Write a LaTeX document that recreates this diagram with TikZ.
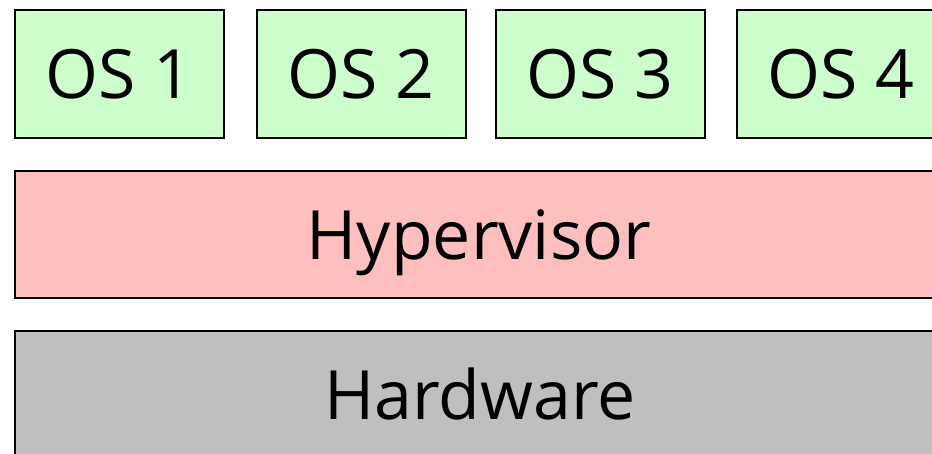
\documentclass[tikz,border=0pt]{standalone}
\usepackage{fontspec}
\setmainfont{Open Sans}
\definecolor{osgreen}{HTML}{CCFFCC}
\definecolor{hvpink}{HTML}{FFBFBF}
\definecolor{hwgray}{HTML}{BFBFBF}
\tikzset{
  layer/.style={draw=black, line width=1.5pt, inner sep=0pt},
  bigtext/.style={font=\fontsize{68}{80}\selectfont, inner sep=0pt, anchor=base},
  osbox/.style={layer, fill=osgreen, minimum width=209pt, minimum height=128pt, anchor=north west},
  hvbox/.style={layer, fill=hvpink, minimum width=930pt, minimum height=127pt, anchor=north west},
  hwbox/.style={layer, fill=hwgray, minimum width=930pt, minimum height=127pt, anchor=north west},
}
\begin{document}
\begin{tikzpicture}[x=1pt,y=-1pt]
\useasboundingbox (0,0) rectangle (932,453);
\clip (0,0) rectangle (932,453);
\node[osbox] (os1) at (14,9) {};
\node[osbox] (os2) at (256,9) {};
\node[osbox] (os3) at (495,9) {};
\node[osbox] (os4) at (736,9) {};
\node[bigtext] (os1t) at ([yshift=-25pt]os1.center) {OS 1};
\node[bigtext] (os2t) at ([yshift=-25pt]os2.center) {OS 2};
\node[bigtext] (os3t) at ([yshift=-25pt]os3.center) {OS 3};
\node[bigtext] (os4t) at ([yshift=-25pt]os4.center) {OS 4};
\node[hvbox] (hv) at (14,170) {};
\node[bigtext] (hvt) at (479,259) {Hypervisor};
\node[hwbox] (hw) at (14,330) {};
\node[bigtext] (hwt) at (480,419) {Hardware};
\end{tikzpicture}
\end{document}
